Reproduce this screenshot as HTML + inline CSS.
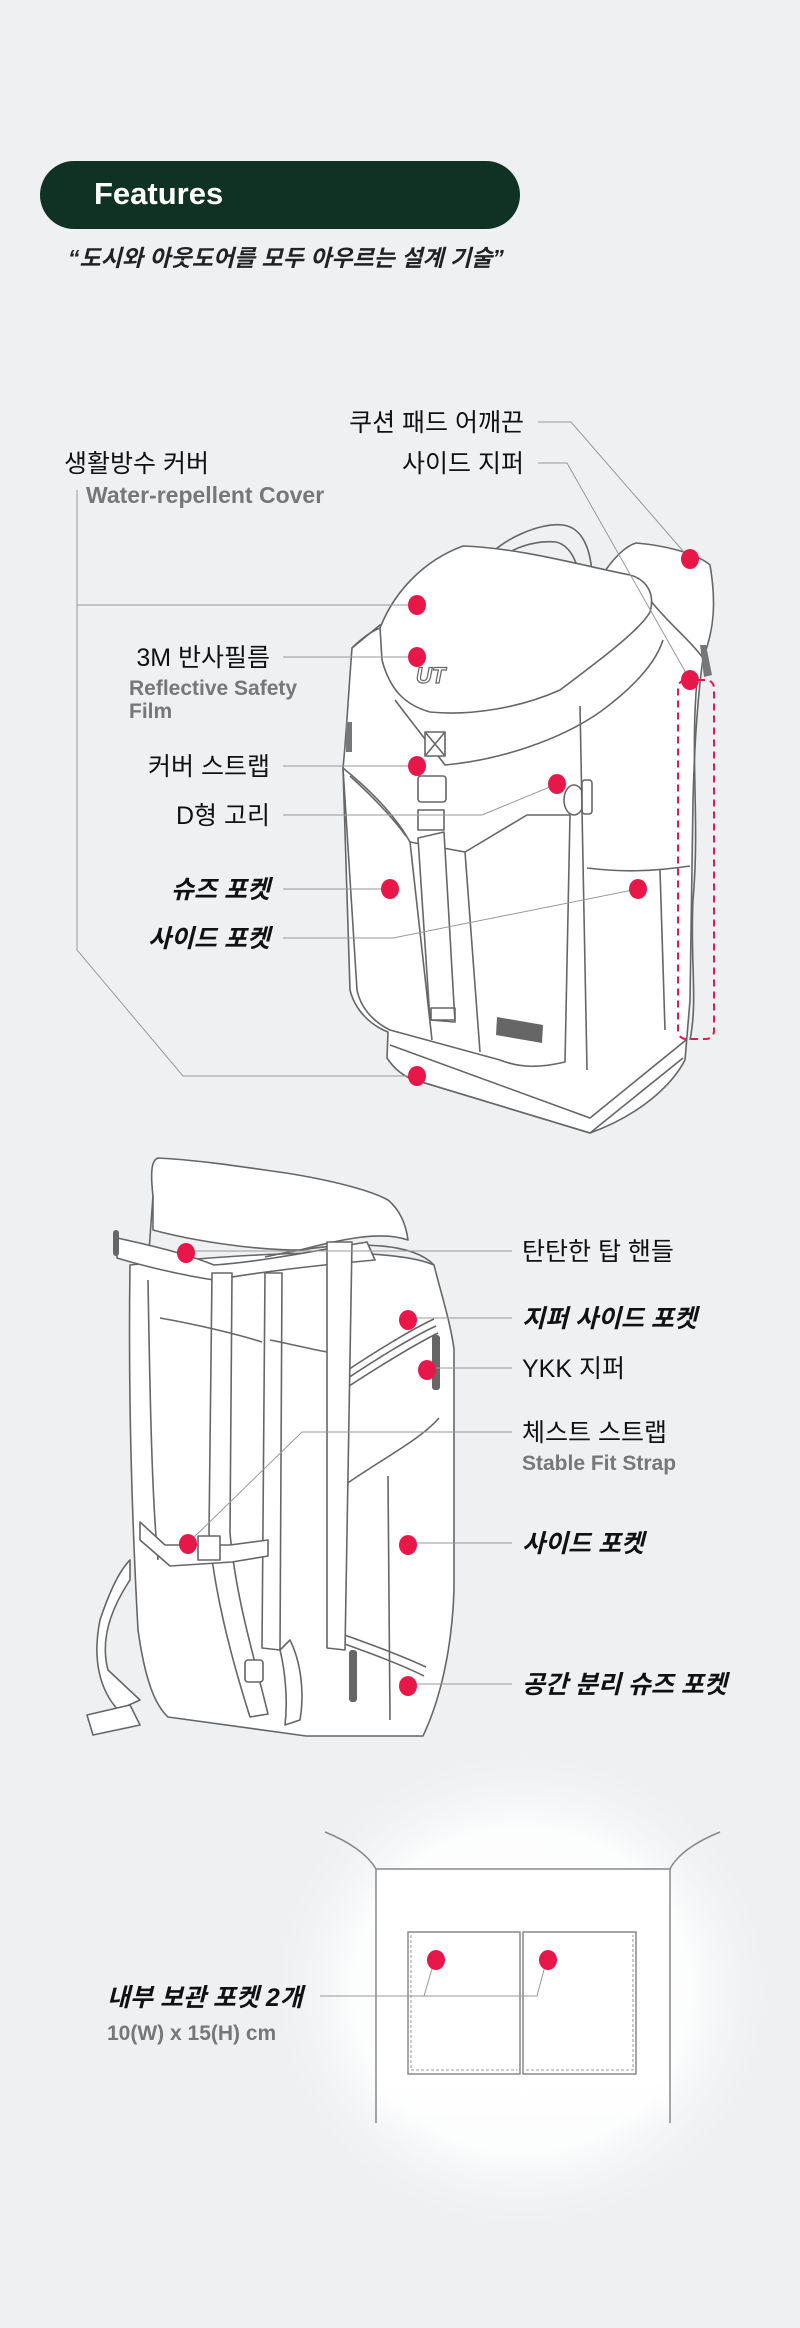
<!DOCTYPE html>
<html><head><meta charset="utf-8"><style>
html,body{margin:0;padding:0;background:#eef0f2;}
svg{display:block}
text{font-family:"Liberation Sans","Noto Sans CJK KR",sans-serif;}
</style></head><body>
<svg width="800" height="2328" viewBox="0 0 800 2328" xmlns="http://www.w3.org/2000/svg">
<defs>
<radialGradient id="glow" cx="0.5" cy="0.5" r="0.5">
<stop offset="0" stop-color="#ffffff"/><stop offset="0.65" stop-color="#ffffff" stop-opacity="0.85"/><stop offset="1" stop-color="#eef0f2" stop-opacity="0"/>
</radialGradient>
<linearGradient id="fade" x1="0" y1="0" x2="0" y2="1">
<stop offset="0" stop-color="#fff"/><stop offset="0.8" stop-color="#fff"/><stop offset="1" stop-color="#fff" stop-opacity="0"/>
</linearGradient>
</defs>
<rect width="800" height="2328" fill="#eef0f2"/>

<rect x="40" y="161" width="480" height="68" rx="34" fill="#0f3224"/>
<text x="94" y="204" font-size="31" font-weight="bold" fill="#fff">Features</text>
<text x="68" y="266" font-size="23" font-weight="bold" font-style="italic" fill="#222">“도시와 아웃도어를 모두 아우르는 설계 기술”</text>

<g fill="#fff" stroke="#666" stroke-width="1.6" stroke-linejoin="round">
<path d="M485 560 C500 540 540 522 563 525 C585 528 592 555 592 580" fill="none"/>
<path d="M497 562 C510 548 535 540 556 542 C572 546 578 565 580 580" fill="none"/>
<path d="M600 578 C612 560 625 546 636 543 C660 545 695 552 710 565 C716 600 715 630 702 660 L660 640 Z"/>
<path d="M352 648 C348 700 346 740 343 768 L350 990 C355 1010 370 1025 388 1032 L387 1058 C395 1070 405 1077 415 1080 L590 1133 C640 1115 672 1085 685 1060 L690 1000 L693 800 C695 720 700 680 703 658 C690 640 670 625 650 600 L380 625 Z"/>
<path d="M380 628 C395 590 425 560 463 546 C520 548 580 565 630 575 C648 580 655 595 650 612 C640 630 600 660 560 690 C520 708 470 716 430 712 C405 705 390 690 382 660 Z"/>
<path d="M395 700 C410 720 430 745 445 765 C500 760 560 740 600 712 C630 690 655 665 663 640" fill="none"/>
<path d="M352 648 C360 640 370 632 380 628" fill="none"/>
<path d="M343 768 C370 790 395 815 410 842 L465 852 L527 815 L570 815 L565 1062 C540 1068 520 1068 500 1060 L390 1030 C370 1020 360 1005 357 990 Z"/>
<path d="M350 776 C372 796 393 818 406 836" fill="none"/>
<path d="M410 842 L432 1040" fill="none"/>
<path d="M465 852 L480 1052" fill="none"/>
<path d="M418 838 L430 1020 L455 1022 L444 832 Z"/>
<rect x="431" y="1008" width="24" height="12" fill="none"/>
<rect x="425" y="732" width="20" height="24"/>
<path d="M425 732 L445 756 M445 732 L425 756" fill="none"/>
<rect x="418" y="776" width="28" height="26" rx="3"/>
<rect x="418" y="810" width="26" height="20"/>
<ellipse cx="574" cy="800" rx="10" ry="15"/>
<rect x="582" y="780" width="10" height="34" rx="3"/>
<path d="M580 706 L587 1070" fill="none"/>
<path d="M587 868 C620 872 650 872 690 866" fill="none"/>
<path d="M660 870 L665 1030" fill="none"/>
<path d="M415 1080 L590 1133 L683 1058" fill="none"/>
<path d="M390 1045 L590 1118 L686 1040" fill="none"/>
<path d="M697 680 C690 760 700 820 693 900 C690 960 698 1000 690 1040" fill="none"/>
</g>
<rect x="346" y="722" width="6" height="30" fill="#777"/>
<path d="M700 645 L706 645 L712 675 L704 677 Z" fill="#777"/>
<path d="M497 1017 L543 1025 L542 1043 L496 1035 Z" fill="#666"/>
<text x="416" y="683" font-size="22" font-weight="bold" font-style="italic" fill="#fff" stroke="#666" stroke-width="1.2">UT</text>

<rect x="678" y="680" width="36" height="359" rx="8" fill="none" stroke="#e8174a" stroke-width="2" stroke-dasharray="7 5"/>

<g stroke="#999" stroke-width="1" fill="none">
<path d="M77 490 L77 950 L183 1076 L417 1076"/>
<path d="M77 605 L417 605"/>
<path d="M283 657 L417 657"/>
<path d="M283 766 L417 766"/>
<path d="M283 815 L482 815 L557 784"/>
<path d="M283 889 L390 889"/>
<path d="M283 938 L393 938 L638 889"/>
<path d="M538 422 L571 422 L690 559"/>
<path d="M538 463 L567 463 L690 680"/>
</g>
<g fill="#e8174a">
<ellipse cx="690" cy="559" rx="9" ry="10"/>
<ellipse cx="417" cy="605" rx="9" ry="10"/>
<ellipse cx="417" cy="657" rx="9" ry="10"/>
<ellipse cx="690" cy="680" rx="9" ry="10"/>
<ellipse cx="417" cy="766" rx="9" ry="10"/>
<ellipse cx="557" cy="784" rx="9" ry="10"/>
<ellipse cx="390" cy="889" rx="9" ry="10"/>
<ellipse cx="638" cy="889" rx="9" ry="10"/>
<ellipse cx="417" cy="1076" rx="9" ry="10"/>
</g>
<g font-size="25" fill="#111">
<text x="524" y="431" text-anchor="end">쿠션 패드 어깨끈</text>
<text x="524" y="472" text-anchor="end">사이드 지퍼</text>
<text x="64" y="472">생활방수 커버</text>
<text x="270" y="666" text-anchor="end">3M 반사필름</text>
<text x="270" y="775" text-anchor="end">커버 스트랩</text>
<text x="270" y="824" text-anchor="end">D형 고리</text>
<text x="270" y="898" text-anchor="end" font-weight="bold" font-style="italic">슈즈 포켓</text>
<text x="270" y="947" text-anchor="end" font-weight="bold" font-style="italic">사이드 포켓</text>
</g>
<g font-size="23" font-weight="bold" fill="#777">
<text x="86" y="503">Water-repellent Cover</text>
<text x="129" y="695" font-size="21">Reflective Safety</text>
<text x="129" y="718" font-size="21">Film</text>
</g>

<g fill="#fff" stroke="#666" stroke-width="1.6" stroke-linejoin="round">
<path d="M130 1265 C128 1400 132 1520 138 1630 C145 1680 155 1705 168 1717 L306 1736 L423 1736 C440 1700 452 1650 454 1590 L454 1349 C450 1320 440 1290 434 1265 C400 1250 300 1248 130 1265 Z"/>
<path d="M153 1196 C150 1170 152 1160 158 1158 C200 1160 250 1168 286 1173 C330 1180 370 1190 388 1200 C400 1210 406 1225 408 1240 C380 1230 340 1240 300 1250 C250 1250 190 1240 153 1230 Z"/>
<path d="M153 1196 L148 1265" fill="none"/>
<path d="M265 1257 C340 1240 410 1240 434 1265" fill="none"/>
<path d="M117 1238 C150 1245 190 1255 214 1265 C260 1262 320 1250 367 1242 L375 1260 C320 1265 260 1272 214 1280 C180 1275 140 1265 117 1258 Z"/>
<path d="M339 1376 C370 1355 410 1330 434 1319" fill="none"/>
<path d="M339 1384 C370 1363 410 1338 436 1326" fill="none"/>
<path d="M340 1392 C372 1371 412 1346 438 1333" fill="none"/>
<path d="M342 1487 C380 1460 420 1440 439 1418" fill="none"/>
<path d="M388 1476 L390 1720" fill="none"/>
<path d="M327 1629 C360 1640 400 1655 426 1667" fill="none"/>
<path d="M327 1638 C360 1649 400 1664 424 1676" fill="none"/>
<path d="M212 1273 L209 1533 C215 1600 235 1670 250 1717 L268 1714 C255 1660 236 1600 230 1533 L232 1273 Z"/>
<path d="M265 1273 L262 1648 L280 1650 L282 1273 Z"/>
<path d="M327 1242 L327 1648 L345 1650 L352 1242 Z"/>
<path d="M148 1280 C150 1400 152 1500 158 1560" fill="none"/>
<path d="M160 1318 C200 1325 240 1335 262 1342" fill="none"/>
<path d="M270 1340 C295 1345 315 1350 327 1352" fill="none"/>
<path d="M140 1522 L165 1545 L230 1545 L268 1540 L268 1556 L232 1562 L170 1566 L140 1540 Z"/>
<rect x="198" y="1536" width="22" height="24"/>
<path d="M130 1580 C110 1610 100 1640 108 1670 L140 1700 L118 1710 C100 1690 92 1660 100 1620 C110 1590 120 1570 130 1560 Z"/>
<path d="M87 1715 L130 1705 L140 1725 L93 1735 Z"/>
<path d="M290 1640 C300 1660 305 1690 300 1720 L285 1725 C288 1700 285 1670 280 1650 Z"/>
<rect x="245" y="1660" width="18" height="22" rx="3"/>
</g>
<rect x="432" y="1335" width="8" height="55" rx="3" fill="#666"/>
<rect x="349" y="1650" width="8" height="52" rx="3" fill="#666"/>
<rect x="113" y="1230" width="6" height="26" rx="3" fill="#666"/>

<g stroke="#999" stroke-width="1" fill="none">
<path d="M186 1251 L512 1251"/>
<path d="M408 1318 L512 1318"/>
<path d="M427 1368 L512 1368"/>
<path d="M512 1432 L302 1432 L188 1543"/>
<path d="M408 1543 L512 1543"/>
<path d="M408 1684 L512 1684"/>
</g>
<g fill="#e8174a">
<ellipse cx="186" cy="1253" rx="9" ry="10"/>
<ellipse cx="408" cy="1320" rx="9" ry="10"/>
<ellipse cx="427" cy="1370" rx="9" ry="10"/>
<ellipse cx="188" cy="1544" rx="9" ry="10"/>
<ellipse cx="408" cy="1545" rx="9" ry="10"/>
<ellipse cx="408" cy="1686" rx="9" ry="10"/>
</g>
<g font-size="25" fill="#111">
<text x="522" y="1260">탄탄한 탑 핸들</text>
<text x="522" y="1327" font-weight="bold" font-style="italic">지퍼 사이드 포켓</text>
<text x="522" y="1377">YKK 지퍼</text>
<text x="522" y="1441">체스트 스트랩</text>
<text x="522" y="1552" font-weight="bold" font-style="italic">사이드 포켓</text>
<text x="522" y="1693" font-weight="bold" font-style="italic">공간 분리 슈즈 포켓</text>
</g>
<text x="522" y="1470" font-size="21" font-weight="bold" fill="#777">Stable Fit Strap</text>

<ellipse cx="522" cy="1990" rx="260" ry="250" fill="url(#glow)"/>
<rect x="376" y="1869" width="294" height="260" fill="url(#fade)"/>
<g stroke="#888" stroke-width="1.5" fill="none">
<path d="M376 2123 L376 1869 L670 1869 L670 2123"/>
<path d="M325 1832 C350 1842 368 1855 376 1869"/>
<path d="M720 1832 C695 1842 677 1855 670 1869"/>
<rect x="408" y="1932" width="112" height="142"/>
<rect x="523" y="1932" width="113" height="142"/>
</g>
<g stroke="#999" stroke-width="1" fill="none" stroke-dasharray="3 2">
<path d="M411 1935 L411 2070 L517 2070"/>
<path d="M526 2070 L633 2070 L633 1935"/>
</g>
<g stroke="#999" stroke-width="1" fill="none">
<path d="M320 1996 L537 1996 L546 1962"/>
<path d="M424 1996 L434 1962"/>
</g>
<ellipse cx="436" cy="1960" rx="9" ry="10" fill="#e8174a"/>
<ellipse cx="548" cy="1960" rx="9" ry="10" fill="#e8174a"/>
<text x="107" y="2006" font-size="25" font-weight="bold" font-style="italic" fill="#111">내부 보관 포켓 2개</text>
<text x="107" y="2040" font-size="21" font-weight="bold" fill="#777">10(W) x 15(H) cm</text>
</svg>
</body></html>
